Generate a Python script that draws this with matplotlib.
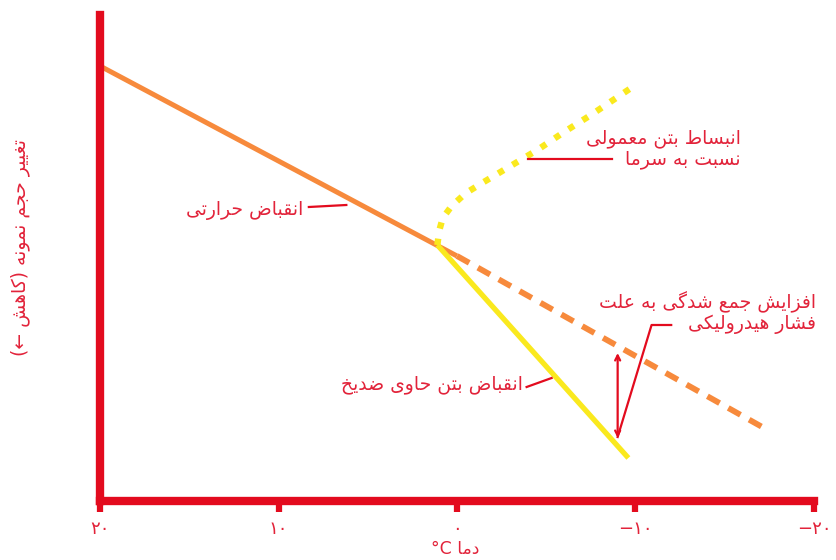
import matplotlib
matplotlib.use('Agg')
import matplotlib.pyplot as plt


# Persian letters -> (isolated, final, initial, medial); None = does not join to next letter
FORMS = {
    'ا': ('\uFE8D', '\uFE8E', None, None),
    'ب': ('\uFE8F', '\uFE90', '\uFE91', '\uFE92'),
    'ت': ('\uFE95', '\uFE96', '\uFE97', '\uFE98'),
    'ج': ('\uFE9D', '\uFE9E', '\uFE9F', '\uFEA0'),
    'ح': ('\uFEA1', '\uFEA2', '\uFEA3', '\uFEA4'),
    'خ': ('\uFEA5', '\uFEA6', '\uFEA7', '\uFEA8'),
    'د': ('\uFEA9', '\uFEAA', None, None),
    'ر': ('\uFEAD', '\uFEAE', None, None),
    'ز': ('\uFEAF', '\uFEB0', None, None),
    'س': ('\uFEB1', '\uFEB2', '\uFEB3', '\uFEB4'),
    'ش': ('\uFEB5', '\uFEB6', '\uFEB7', '\uFEB8'),
    'ض': ('\uFEBD', '\uFEBE', '\uFEBF', '\uFEC0'),
    'ط': ('\uFEC1', '\uFEC2', '\uFEC3', '\uFEC4'),
    'ع': ('\uFEC9', '\uFECA', '\uFECB', '\uFECC'),
    'غ': ('\uFECD', '\uFECE', '\uFECF', '\uFED0'),
    'ف': ('\uFED1', '\uFED2', '\uFED3', '\uFED4'),
    'ق': ('\uFED5', '\uFED6', '\uFED7', '\uFED8'),
    'ک': ('\uFB8E', '\uFB8F', '\uFB90', '\uFB91'),
    'گ': ('\uFB92', '\uFB93', '\uFB94', '\uFB95'),
    'ل': ('\uFEDD', '\uFEDE', '\uFEDF', '\uFEE0'),
    'م': ('\uFEE1', '\uFEE2', '\uFEE3', '\uFEE4'),
    'ن': ('\uFEE5', '\uFEE6', '\uFEE7', '\uFEE8'),
    'ه': ('\uFEE9', '\uFEEA', '\uFEEB', '\uFEEC'),
    'و': ('\uFEED', '\uFEEE', None, None),
    'ی': ('\uFEEF', '\uFEF0', '\uFEF3', '\uFEF4'),
}
MIRROR = {'(': ')', ')': '('}


def fa(text):
    # join letters and put them in visual (left-to-right) order
    out = []
    for i, ch in enumerate(text):
        if ch not in FORMS:
            out.append(MIRROR.get(ch, ch))
            continue
        prev = text[i - 1] if i > 0 else ''
        nxt = text[i + 1] if i + 1 < len(text) else ''
        join_prev = prev in FORMS and FORMS[prev][2] is not None
        join_next = nxt in FORMS and FORMS[ch][2] is not None
        iso, fin, ini, med = FORMS[ch]
        if join_prev and join_next:
            out.append(med)
        elif join_prev:
            out.append(fin)
        elif join_next:
            out.append(ini)
        else:
            out.append(iso)
    return ''.join(reversed(out))


# data (temperature in C, relative volume change)
thermal_t = [20, 0]
thermal_v = [43.5, 24.5]
continued_t = [0, -17.4]
continued_v = [24.5, 7.1]
antifreeze_t = [1.1, -9.6]
antifreeze_v = [25.6, 4.3]
plain_t = [1.1, 1.0, 0.8, 0.3, -0.5, -1.5, -3.0, -4.5, -6.0, -7.5, -10.0]
plain_v = [25.6, 27.0, 28.3, 29.5, 30.8, 31.9, 33.5, 35.1, 36.9, 38.6, 41.6]
gap_t = -9.0
gap_v = [6.3, 14.8]

xticks = [20, 10, 0, -10, -20]
xticklabels = ['۲۰', '۱۰', '۰', '−۱۰', '−۲۰']

RED = '#E30B1E'
TXT = '#E2233A'
ORANGE = '#F78A3C'
YELLOW = '#FAE91E'
FS = 13.5

plt.rcParams['font.family'] = ['DejaVu Sans']

fig = plt.figure(figsize=(8.37, 5.6), dpi=100)
ax = fig.add_axes([100 / 837, 59 / 560, 714 / 837, 486 / 560])

ax.plot(thermal_t, thermal_v, color=ORANGE, lw=3.6, solid_capstyle='butt')
ax.plot(continued_t, continued_v, color=ORANGE, lw=4.2, dashes=(2.4, 1.7))
ax.plot(antifreeze_t, antifreeze_v, color=YELLOW, lw=3.8, solid_capstyle='butt')
ax.plot(plain_t, plain_v, color=YELLOW, lw=4.6, dashes=(1.0, 1.6))

ax.annotate('', xy=(gap_t, gap_v[0]), xytext=(gap_t, gap_v[1]),
            arrowprops=dict(arrowstyle='<->', color=RED, lw=1.6,
                            shrinkA=0, shrinkB=0, mutation_scale=9))

# labels with pointer lines
ax.plot([-4.0, -8.7], [34.2, 34.2], color=RED, lw=1.6)
ax.text(-15.9, 35.2, fa('انبساط بتن معمولی') + '\n' + fa('نسبت به سرما'),
        ha='right', va='center', multialignment='right', color=TXT, fontsize=FS,
        linespacing=1.1)

ax.plot([-9.0, -10.9, -12.0], [6.4, 17.6, 17.6], color=RED, lw=1.6)
ax.text(-20.1, 18.85, fa('افزایش جمع شدگی به علت') + '\n' + fa('فشار هیدرولیکی'),
        ha='right', va='center', multialignment='right', color=TXT, fontsize=FS,
        linespacing=1.1)

ax.plot([8.3, 6.2], [29.4, 29.6], color=RED, lw=1.6)
ax.text(8.6, 29.1, fa('انقباض حرارتی'), ha='right', va='center',
        color=TXT, fontsize=FS)

ax.plot([-3.9, -5.3], [11.4, 12.3], color=RED, lw=1.6)
ax.text(-3.7, 11.6, fa('انقباض بتن حاوی ضدیخ'), ha='right', va='center',
        color=TXT, fontsize=FS)

ax.set_xlim(20, -20)
ax.set_ylim(0, 48.6)
for side in ['top', 'right']:
    ax.spines[side].set_visible(False)
for side in ['left', 'bottom']:
    ax.spines[side].set_color(RED)
    ax.spines[side].set_linewidth(6)
    ax.spines[side].set_capstyle('projecting')

ax.set_xticks(xticks)
ax.set_xticklabels(xticklabels)
ax.set_yticks([])
ax.tick_params(axis='x', colors=RED, length=8, width=4.5, pad=6, labelsize=13)
for lab in ax.get_xticklabels():
    lab.set_color(TXT)

fig.text(455 / 837, 1 - 549 / 560, '°C ' + fa('دما'), ha='center', va='center',
         color=TXT, fontsize=12.5)
fig.text(20 / 837, 1 - 248 / 560, fa('تغییر حجم نمونه (کاهش ←)'), rotation=90,
         ha='center', va='center', color=TXT, fontsize=13.5)

fig.savefig('out.png', dpi=100)
